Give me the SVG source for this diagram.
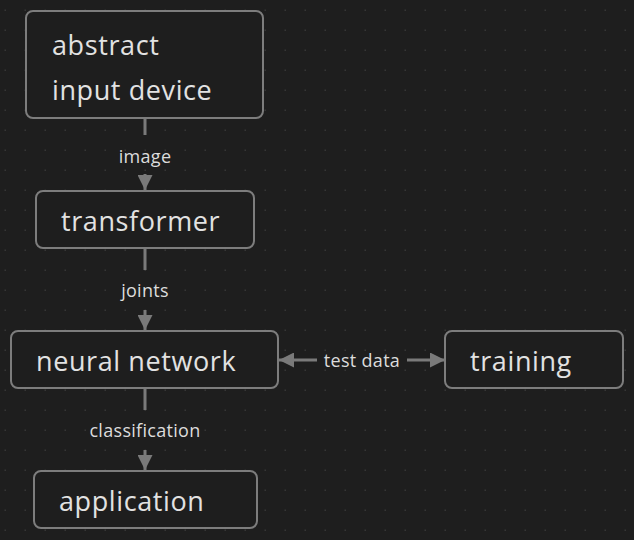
<svg xmlns="http://www.w3.org/2000/svg" width="634" height="540" viewBox="0 0 634 540">
<defs>
<pattern id="grid" x="0" y="0" width="20" height="20" patternUnits="userSpaceOnUse">
<rect x="4.5" y="9.5" width="1.5" height="1.5" fill="#363636"/>
</pattern>
<marker id="arr" viewBox="0 0 10 10" refX="10" refY="5" markerWidth="5" markerHeight="5" orient="auto-start-reverse" markerUnits="strokeWidth">
<path d="M0,0 L10,5 L0,10 z" fill="#7a7a7a"/>
</marker>
<style>
.node rect{fill:#1e1e1e;stroke:#7d7d7d;stroke-width:2}
.node text{font-family:"Open Sans","Noto Sans",sans-serif;font-size:27px;letter-spacing:0.6px;fill:#e2e2e2}
.edge line{stroke:#7a7a7a;stroke-width:3}
.lbl{font-family:"Open Sans","Noto Sans",sans-serif;font-size:18px;letter-spacing:0.3px;fill:#dcdcdc;text-anchor:middle}
</style>
</defs>
<rect width="634" height="540" fill="#1e1e1e"/>
<rect width="634" height="540" fill="url(#grid)"/>
<g id="connectors" class="edge">
<line x1="145" y1="119" x2="145" y2="135"/>
<line x1="145" y1="174" x2="145" y2="190" marker-end="url(#arr)"/>
<text class="lbl" x="145" y="163">image</text>
<line x1="145" y1="249" x2="145" y2="270"/>
<line x1="145" y1="310" x2="145" y2="330" marker-end="url(#arr)"/>
<text class="lbl" x="145" y="297">joints</text>
<line x1="145" y1="389" x2="145" y2="410"/>
<line x1="145" y1="450" x2="145" y2="470" marker-end="url(#arr)"/>
<text class="lbl" x="145" y="437">classification</text>
<line x1="317" y1="360" x2="279" y2="360" marker-end="url(#arr)"/>
<line x1="407" y1="360" x2="445" y2="360" marker-end="url(#arr)"/>
<text class="lbl" x="362" y="367">test data</text>
</g>
<g id="node-input" class="node">
<rect x="26" y="11" width="237" height="107" rx="7"/>
<text x="52" y="55">abstract</text>
<text x="52" y="100">input device</text>
</g>
<g id="node-transformer" class="node">
<rect x="36" y="191" width="218" height="57" rx="7"/>
<text x="61" y="231">transformer</text>
</g>
<g id="node-neural" class="node">
<rect x="11" y="331" width="267" height="57" rx="7"/>
<text x="36" y="371">neural network</text>
</g>
<g id="node-training" class="node">
<rect x="445" y="331" width="178" height="57" rx="7"/>
<text x="470" y="371">training</text>
</g>
<g id="node-application" class="node">
<rect x="34" y="471" width="223" height="57" rx="7"/>
<text x="59" y="511">application</text>
</g>
</svg>
